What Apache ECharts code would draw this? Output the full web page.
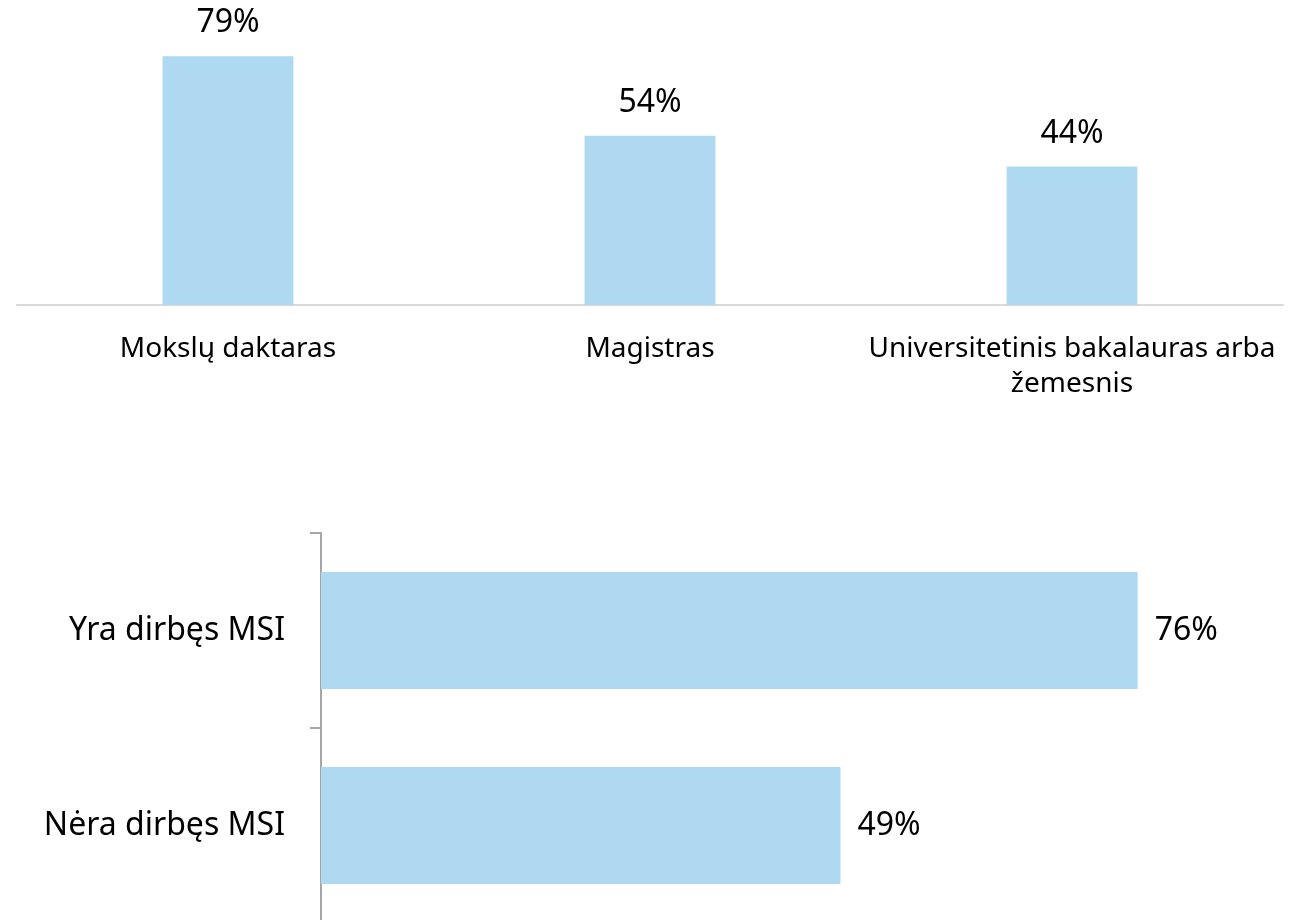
<!DOCTYPE html>
<html>
<head>
<meta charset="utf-8">
<script src="https://cdn.jsdelivr.net/npm/echarts@6/dist/echarts.min.js"></script>
<style>
html,body{margin:0;padding:0;background:#fff;overflow:hidden;}
#chart{width:1296px;height:932px;}
</style>
</head>
<body>
<div id="chart"></div>
<script>
// Top chart: share by degree
const degreeCategories = ['Mokslų daktaras', 'Magistras', 'Universitetinis bakalauras arba\nžemesnis'];
const degreeValues = [79, 53.7, 44];
// Bottom chart: worked at MSI
const msiCategories = ['Yra dirbęs MSI', 'Nėra dirbęs MSI'];
const msiValues = [76.4, 48.6];

const FONT = '"Noto Sans", "Open Sans", sans-serif';
const BAR = '#aed9f1';

const chart = echarts.init(document.getElementById('chart'), null, {renderer: 'canvas'});
chart.setOption({
  animation: false,
  backgroundColor: '#ffffff',
  textStyle: {fontFamily: FONT, color: '#000'},
  grid: [
    {left: 17, right: 13, top: 53, height: 252},
    {left: 321, right: 13, top: 533, height: 390}
  ],
  xAxis: [
    {
      gridIndex: 0, type: 'category', data: degreeCategories,
      axisLine: {lineStyle: {color: '#d9d9d9', width: 2}},
      axisTick: {show: false},
      axisLabel: {fontFamily: FONT, fontSize: 28, color: '#000', margin: 27, lineHeight: 35, interval: 0}
    },
    {
      gridIndex: 1, type: 'value', min: 0, max: 90, show: false
    }
  ],
  yAxis: [
    {gridIndex: 0, type: 'value', min: 0, max: 80, show: false},
    {
      gridIndex: 1, type: 'category', data: msiCategories, inverse: true,
      axisLine: {lineStyle: {color: '#a6a6a6', width: 2}},
      axisTick: {show: true, length: 11, lineStyle: {color: '#a6a6a6', width: 2}},
      axisLabel: {fontFamily: FONT, fontSize: 32, color: '#000', margin: 36}
    }
  ],
  series: [
    {
      type: 'bar', xAxisIndex: 0, yAxisIndex: 0, data: degreeValues,
      barWidth: '31%', itemStyle: {color: BAR},
      label: {show: true, position: 'top', distance: 17, fontFamily: FONT, fontSize: 32, color: '#000',
        formatter: p => Math.round(p.value) + '%'}
    },
    {
      type: 'bar', xAxisIndex: 1, yAxisIndex: 1, data: msiValues,
      barWidth: '60%', itemStyle: {color: BAR},
      label: {show: true, position: 'right', distance: 17, fontFamily: FONT, fontSize: 32, color: '#000',
        formatter: p => Math.round(p.value) + '%'}
    }
  ]
});
</script>
</body>
</html>
